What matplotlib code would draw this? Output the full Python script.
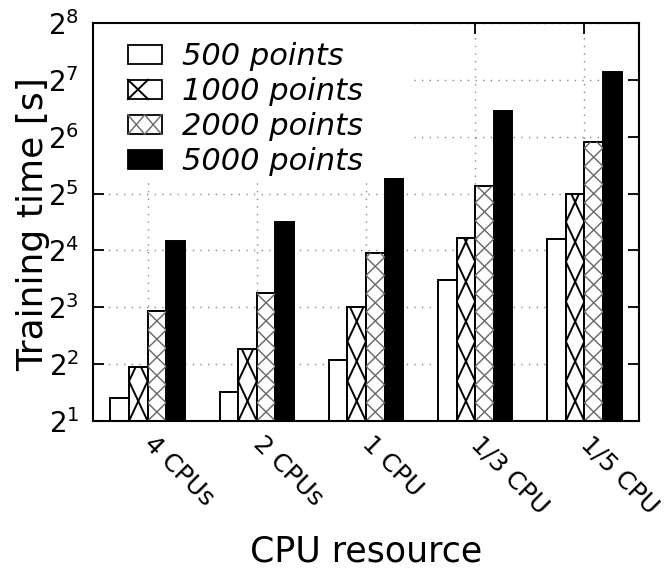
import matplotlib
matplotlib.use('Agg')
import matplotlib.pyplot as plt
from matplotlib.patches import Patch, Rectangle
from matplotlib.lines import Line2D
from matplotlib.ticker import NullLocator
import numpy as np


resources = ['4 CPUs', '2 CPUs', '1 CPU', '1/3 CPU', '1/5 CPU']
series_names = ['500 points', '1000 points', '2000 points', '5000 points']

# training time in seconds for each dataset size
t_500 = [2.64, 2.85, 4.2, 11.2, 18.5]
t_1000 = [3.88, 4.8, 8.05, 18.6, 31.8]
t_2000 = [7.6, 9.5, 15.5, 35.2, 60.0]
t_5000 = [18.0, 22.7, 38.1, 88.0, 141.0]

y_floor = 2
y_ceil = 256
bar_w = 0.17


# crossing zig-zag lines inside each bar, step is in powers of two
def zigzag_fill(ax, bars, step, color, lw):
    for bar in bars:
        x0 = bar.get_x()
        x1 = x0 + bar.get_width()
        lo = np.log2(bar.get_y())
        hi = np.log2(bar.get_y() + bar.get_height())
        n = int(np.ceil((hi - lo) / step)) + 1
        ys = 2.0 ** (lo + step * np.arange(n + 1))
        even = np.arange(n + 1) % 2 == 0
        for xs in (np.where(even, x0, x1), np.where(even, x1, x0)):
            ln, = ax.plot(xs, ys, color=color, lw=lw, zorder=2.1)
            ln.set_clip_path(bar)


class BoxHandler:
    def __init__(self, face, segs=(), color='black', lw=1.3):
        self.face, self.segs, self.color, self.lw = face, segs, color, lw

    def legend_artist(self, legend, orig_handle, fontsize, handlebox):
        x0, y0 = -handlebox.xdescent, -handlebox.ydescent
        w, h = handlebox.width, handlebox.height
        tr = handlebox.get_transform()
        box = Rectangle((x0, y0), w, h, facecolor=self.face, edgecolor='black',
                        lw=1.3, transform=tr)
        handlebox.add_artist(box)
        for xs, ys in self.segs:
            handlebox.add_artist(Line2D(x0 + np.array(xs) * w, y0 + np.array(ys) * h,
                                        color=self.color, lw=self.lw, transform=tr))
        return box


fig = plt.figure(figsize=(6.66, 5.68), dpi=100)
ax = fig.add_axes([0.1396, 0.2588, 0.8199, 0.7007])
ax.set_yscale('log', base=2)

x = np.arange(len(resources))
all_times = [t_500, t_1000, t_2000, t_5000]
faces = ['white', 'white', 'white', 'black']
containers = []
for i, (vals, fc) in enumerate(zip(all_times, faces)):
    heights = np.array(vals) - y_floor
    bars = ax.bar(x + (i - 1.5) * bar_w, heights, bar_w, bottom=y_floor,
                  facecolor=fc, edgecolor='black', lw=1.4, zorder=2)
    containers.append(bars)

zigzag_fill(ax, containers[1], 0.70, 'black', 1.4)
zigzag_fill(ax, containers[2], 0.32, '#666666', 1.0)

ax.set_xlim(-0.5, len(resources) - 0.5)
ax.set_ylim(y_floor, y_ceil)
ax.set_yticks([2 ** k for k in range(1, 9)])
ax.yaxis.set_minor_locator(NullLocator())
ax.set_xticks(x)
ax.set_xticklabels(resources)

ax.set_axisbelow(True)
ax.grid(True, which='major', linestyle=(0, (1, 4.5)), color='#888888', lw=1.0)
# white key background hides the grid behind the legend
ax.add_patch(Rectangle((0, 0.60), 0.58, 0.40, transform=ax.transAxes,
                       facecolor='white', edgecolor='none', zorder=1))

ax.tick_params(direction='in', length=8, width=1.3, top=True, right=True)
ax.tick_params(axis='y', labelsize=20, pad=10)
ax.tick_params(axis='x', labelsize=18, pad=14)
for lab in ax.get_xticklabels():
    lab.set_rotation(-45)
    lab.set_ha('left')
    lab.set_va('center')
    lab.set_rotation_mode('anchor')
for sp in ax.spines.values():
    sp.set_linewidth(1.5)

ax.set_ylabel('Training time [s]', fontsize=26)
ax.yaxis.set_label_coords(-0.079, 0.495)
ax.set_xlabel('CPU resource', fontsize=25)
ax.xaxis.set_label_coords(0.5, -0.284)

proxies = [Patch() for _ in series_names]
handlers = {
    proxies[0]: BoxHandler('white'),
    proxies[1]: BoxHandler('white', [([0, 0.6], [0, 1]), ([0, 0.6], [1, 0])], 'black', 1.4),
    proxies[2]: BoxHandler('white', [([0, 0.5, 1], [0, 1, 0]), ([0, 0.5, 1], [1, 0, 1])],
                           '#666666', 1.0),
    proxies[3]: BoxHandler('black'),
}
ax.legend(proxies, series_names, handler_map=handlers, loc='upper left',
          bbox_to_anchor=(0.064, 0.952), frameon=False, borderpad=0, borderaxespad=0,
          handlelength=1.1, handleheight=0.6, handletextpad=0.68, labelspacing=0.2,
          prop={'size': 22, 'style': 'italic'})

fig.savefig('out.png', dpi=100)
